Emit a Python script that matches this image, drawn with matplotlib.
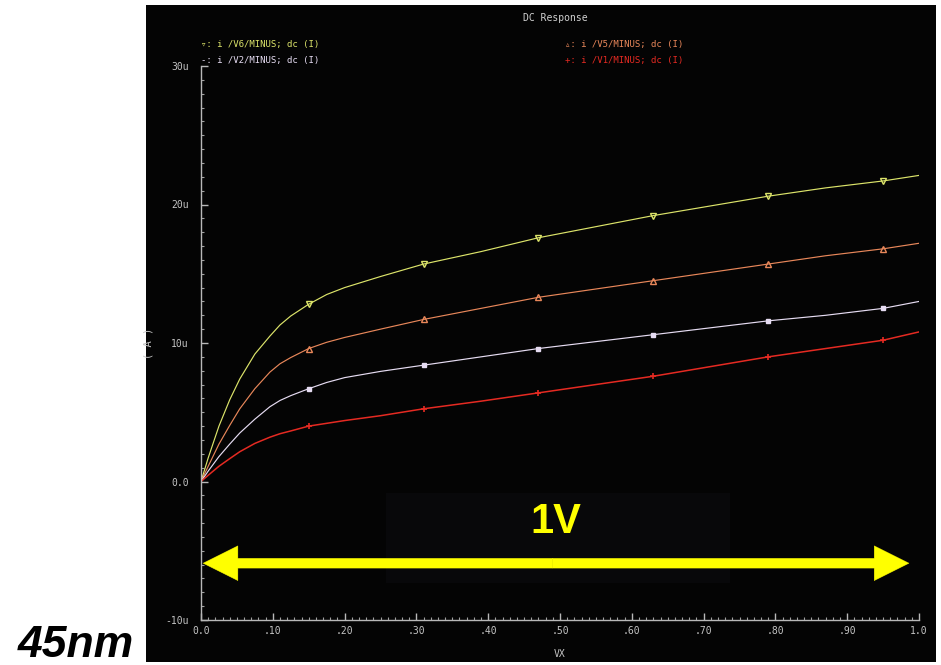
import matplotlib
matplotlib.use("Agg")
import matplotlib.pyplot as plt
from matplotlib.patches import Rectangle, FancyArrowPatch, ArrowStyle
from matplotlib.ticker import MultipleLocator, FixedLocator

# ---- data (VX in volts, currents in microamps) ----
vx = [0.0, 0.01, 0.025, 0.04, 0.054, 0.075, 0.096, 0.11, 0.125, 0.15, 0.175, 0.20, 0.25,
      0.31, 0.39, 0.47, 0.55, 0.63, 0.71, 0.79, 0.87, 0.95, 1.0]
i_v6 = [0.0, 1.7, 4.0, 5.9, 7.4, 9.2, 10.5, 11.3, 11.95, 12.8, 13.5, 14.0, 14.8,
        15.7, 16.6, 17.6, 18.4, 19.2, 19.9, 20.6, 21.2, 21.7, 22.1]
i_v5 = [0.0, 1.1, 2.7, 4.05, 5.25, 6.7, 7.9, 8.5, 8.95, 9.6, 10.05, 10.4, 11.0,
        11.7, 12.5, 13.3, 13.9, 14.5, 15.1, 15.7, 16.3, 16.8, 17.2]
i_v2 = [0.0, 0.75, 1.8, 2.7, 3.5, 4.5, 5.4, 5.85, 6.2, 6.7, 7.15, 7.5, 7.95,
        8.4, 9.0, 9.6, 10.1, 10.6, 11.1, 11.6, 12.0, 12.5, 13.0]
i_v1 = [0.0, 0.45, 1.1, 1.65, 2.15, 2.75, 3.2, 3.45, 3.65, 4.0, 4.2, 4.4, 4.75,
        5.25, 5.8, 6.4, 7.0, 7.6, 8.3, 9.0, 9.6, 10.2, 10.8]
marker_idx = [9, 13, 15, 17, 19, 21]

legend_labels = ["i /V6/MINUS; dc (I)", "i /V2/MINUS; dc (I)",
                 "i /V5/MINUS; dc (I)", "i /V1/MINUS; dc (I)"]
legend_syms = ["\u25bf", "-", "\u25b5", "+"]
xtick_vals = [0.0, 0.1, 0.2, 0.3, 0.4, 0.5, 0.6, 0.7, 0.8, 0.9, 1.0]
xtick_labels = ["0.0", ".10", ".20", ".30", ".40", ".50", ".60", ".70", ".80", ".90", "1.0"]
ytick_vals = [-10, 0, 10, 20, 30]
ytick_labels = ["-10u", "0.0", "10u", "20u", "30u"]

C_V6 = "#dce46a"
C_V5 = "#e8875a"
C_V2 = "#e6dcf2"
C_V1 = "#e52a22"
GREY = "#c4c4c4"
MONO = ["DejaVu Sans Mono", "DejaVu Sans"]

W, H = 941, 665
fig = plt.figure(figsize=(W / 100, H / 100), dpi=100, facecolor="white")

# black scope panel
fig.patches.append(Rectangle((146 / W, 1 - 662 / H), (936 - 146) / W, (662 - 5) / H,
                             transform=fig.transFigure, facecolor="#040404",
                             edgecolor="none", zorder=-10))

ax = fig.add_axes([201 / W, 1 - 620 / H, 718 / W, 554 / H])
ax.set_zorder(1)
ax.set_facecolor("none")
ax.set_xlim(0, 1.0)
ax.set_ylim(-10, 30)

for s in ["top", "right"]:
    ax.spines[s].set_visible(False)
for s in ["left", "bottom"]:
    ax.spines[s].set_color("#b8b8b8")
    ax.spines[s].set_linewidth(1.0)

ax.xaxis.set_major_locator(FixedLocator(xtick_vals))
ax.set_xticklabels(xtick_labels)
ax.xaxis.set_minor_locator(MultipleLocator(0.01))
ax.yaxis.set_major_locator(FixedLocator(ytick_vals))
ax.set_yticklabels(ytick_labels)
ax.yaxis.set_minor_locator(MultipleLocator(1))
ax.tick_params(which="major", direction="in", length=5, width=1, color="#b8b8b8",
               labelcolor=GREY, labelsize=7)
ax.tick_params(which="minor", direction="in", length=2.5, width=0.8, color="#a0a0a0")
ax.tick_params(axis="x", which="major", pad=4)
ax.tick_params(axis="y", which="major", pad=9)
for lab in ax.get_xticklabels() + ax.get_yticklabels():
    lab.set_family(MONO)

ax.set_xlabel("VX", color=GREY, fontsize=7, family=MONO)
ax.xaxis.set_label_coords(0.5, -0.052)
ax.set_ylabel("( A )", color=GREY, fontsize=7.5, family=MONO)
ax.yaxis.set_label_coords(-0.066, 0.5)

# curves
ax.plot(vx, i_v6, color=C_V6, lw=0.85, marker="v", ms=4, mfc="none", mec=C_V6,
        markevery=marker_idx)
ax.plot(vx, i_v5, color=C_V5, lw=0.85, marker="^", ms=4, mfc="none", mec=C_V5,
        markevery=marker_idx)
ax.plot(vx, i_v2, color=C_V2, lw=0.85, marker="s", ms=2.5, mfc=C_V2, mec=C_V2,
        markevery=marker_idx)
ax.plot(vx, i_v1, color=C_V1, lw=1.1, marker="+", ms=5, mew=1.2, mec=C_V1,
        markevery=marker_idx)

# faintly lighter box behind the 1V annotation
ax.add_patch(Rectangle((0.257, -7.3), 0.48, 6.5, facecolor="#08080a",
                       edgecolor="none", zorder=0.5))

# yellow double arrow
style = ArrowStyle.Simple(head_length=25, head_width=25, tail_width=7)
for x_end in (0.003, 0.986):
    ax.add_patch(FancyArrowPatch((0.49, -5.9), (x_end, -5.9), arrowstyle=style,
                                 mutation_scale=1, facecolor="#ffff00",
                                 edgecolor="#ffff00", lw=0.3, zorder=5,
                                 shrinkA=0, shrinkB=0, clip_on=False))
ax.text(0.494, -2.9, "1V", color="#ffff00", fontsize=30, fontweight="bold",
        family="Liberation Sans", ha="center", va="center", zorder=6)

# title and legend
fig.text(555 / W, 1 - 18 / H, "DC Response", color="#d0d0d0", fontsize=7,
         family=MONO, ha="center", va="center")
leg_pos = [(201, 45), (201, 60), (565, 45), (565, 60)]
leg_cols = [C_V6, C_V2, C_V5, C_V1]
for (px, py), sym, lab, col in zip(leg_pos, legend_syms, legend_labels, leg_cols):
    fig.text(px / W, 1 - py / H, sym + ": " + lab, color=col, fontsize=6.5,
             family=MONO, ha="left", va="center")

# 45nm label
fig.text(18 / W, 1 - 657 / H, "45nm", color="black", fontsize=32,
         fontweight="bold", fontstyle="italic", family="Liberation Sans",
         ha="left", va="baseline")

fig.savefig("out.png", dpi=100, facecolor="white")
